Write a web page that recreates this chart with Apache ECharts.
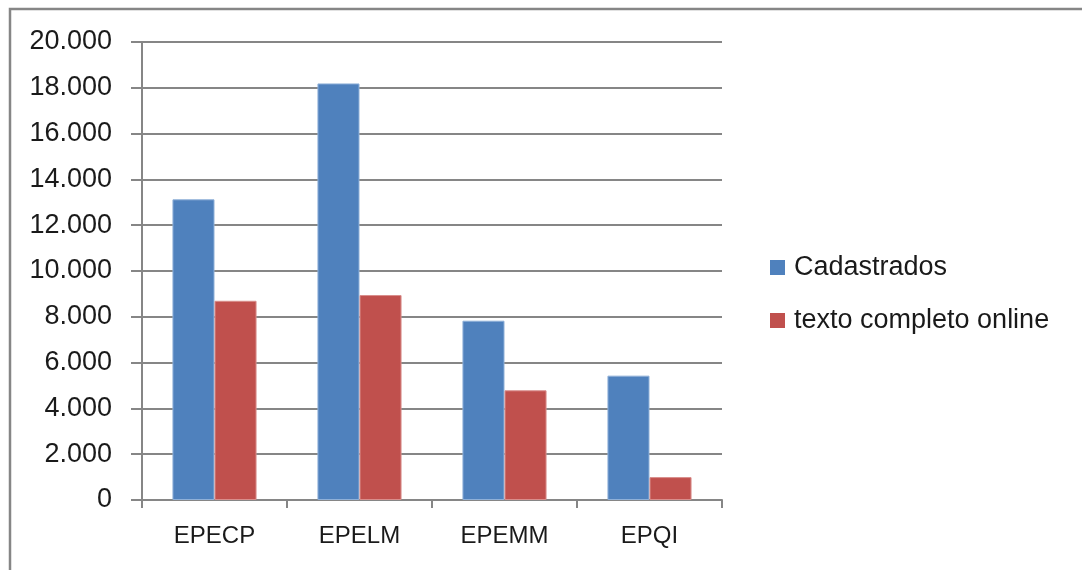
<!DOCTYPE html>
<html>
<head>
<meta charset="utf-8">
<script src="https://cdn.jsdelivr.net/npm/echarts@6/dist/echarts.min.js"></script>
<style>
  html, body { margin: 0; padding: 0; background: #fff; }
  #chartBox { width: 1082px; height: 570px; }
</style>
</head>
<body>
<div id="chartBox"></div>
<script>
// 数据
var categories = ["EPECP", "EPELM", "EPEMM", "EPQI"];
var cadastrados = [13130, 18190, 7830, 5430];
var textoOnline = [8700, 8950, 4790, 1000];
var seriesNames = ["Cadastrados", "texto completo online"];

var myChart = echarts.init(document.getElementById("chartBox"));

var axisGrey = "#868686";

var option = {
  backgroundColor: "#fff",
  animation: false,
  textStyle: { fontFamily: "Liberation Sans" },
  // 外框
  graphic: [
    {
      type: "rect",
      shape: { x: 10, y: 9, width: 1200, height: 700 },
      style: { fill: "none", stroke: axisGrey, lineWidth: 2.5 },
      silent: true
    }
  ],
  grid: {
    left: 142,
    right: 360,
    top: 42,
    bottom: 70
  },
  legend: {
    orient: "vertical",
    left: 765,
    top: 249,
    itemWidth: 15,
    itemHeight: 15,
    itemGap: 26,
    icon: "rect",
    itemStyle: { borderWidth: 0 },
    textStyle: {
      color: "#1a1a1a",
      fontSize: 27,
      padding: [0, 0, 0, 4]
    },
    data: seriesNames
  },
  xAxis: {
    type: "category",
    data: categories,
    axisLine: { lineStyle: { color: axisGrey, width: 2 } },
    axisTick: { show: true, length: 8, lineStyle: { color: axisGrey, width: 2 } },
    axisLabel: {
      color: "#1a1a1a",
      fontSize: 24,
      margin: 24
    }
  },
  yAxis: {
    type: "value",
    min: 0,
    max: 20000,
    interval: 2000,
    axisLine: { show: true, lineStyle: { color: axisGrey, width: 2 } },
    axisTick: { show: true, length: 11, lineStyle: { color: axisGrey, width: 2 } },
    splitLine: { show: true, lineStyle: { color: axisGrey, width: 2 } },
    axisLabel: {
      color: "#1a1a1a",
      fontSize: 27,
      margin: 30,
      formatter: function (v) {
        if (v === 0) return "0";
        return (v / 1000) + ".000";
      }
    }
  },
  series: [
    {
      name: seriesNames[0],
      type: "bar",
      barGap: "0%",
      barCategoryGap: "42%",
      itemStyle: { color: "#4F81BD", borderColor: "#8fb0d8", borderWidth: 1 },
      data: cadastrados
    },
    {
      name: seriesNames[1],
      type: "bar",
      itemStyle: { color: "#C0504D", borderColor: "#d98e8c", borderWidth: 1 },
      data: textoOnline
    }
  ]
};

myChart.setOption(option);
</script>
</body>
</html>
